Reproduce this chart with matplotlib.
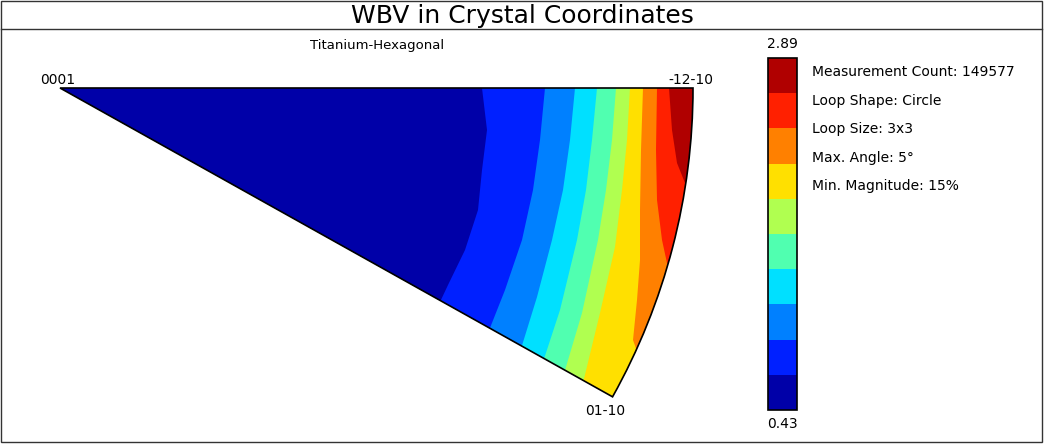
import numpy as np
import matplotlib.pyplot as plt
from matplotlib.patches import Polygon, Rectangle, Wedge

# band colours, low -> high (0.43 .. 2.89)
colors = ['#0000a8', '#0020ff', '#0080ff', '#00e0ff', '#50ffb0',
          '#b0ff50', '#ffe000', '#ff8000', '#ff2000', '#b00000']
vmin, vmax = 0.43, 2.89

# contour boundaries between successive bands (pixel coords of the sector)
bounds = [
    [(482, 88), (487, 130), (482, 170), (478, 210), (465, 250), (448, 285), (440, 302)],
    [(545, 88), (540, 140), (533, 190), (522, 240), (505, 290), (488, 333)],
    [(575, 88), (570, 140), (563, 190), (552, 240), (537, 297), (520, 352)],
    [(597, 88), (592, 140), (586, 190), (577, 240), (560, 310), (542, 365)],
    [(616, 88), (612, 140), (606, 190), (598, 240), (582, 313), (563, 377)],
    [(630, 88), (627, 140), (622, 190), (615, 247), (600, 313), (582, 387)],
    [(643, 88), (641, 150), (640, 210), (640, 260), (637, 300), (633, 340), (640, 360)],
    [(657, 88), (656, 150), (657, 200), (662, 240), (667, 263), (680, 275)],
    [(669, 88), (672, 130), (677, 163), (685, 183), (700, 190)],
]
info = ['Measurement Count: 149577', 'Loop Shape: Circle', 'Loop Size: 3x3',
        'Max. Angle: 5°', 'Min. Magnitude: 15%']

fig = plt.figure(figsize=(10.44, 4.44), dpi=100)
ax = fig.add_axes([0, 0, 1, 1])
ax.set_xlim(0, 1044)
ax.set_ylim(444, 0)
ax.axis('off')

# frame + title bar
ax.add_patch(Rectangle((1, 1), 1041, 441, fill=False, ec='#333333', lw=1))
ax.plot([1, 1042], [29, 29], c='#333333', lw=1)
ax.text(522, 16, 'WBV in Crystal Coordinates', ha='center', va='center', fontsize=18)
ax.text(377, 45, 'Titanium-Hexagonal', ha='center', va='center', fontsize=9.5)

# sector: centre 0001, radius to -12-10, y axis inverted so it opens downwards
cx, cy, R = 60, 88, 633
clip = Wedge((cx, cy), R, 0, 29.2, fc='none', ec='none')
ax.add_patch(clip)

base = Polygon([(cx, cy), (800, 88), (800, 450), (cx, cy)], closed=True,
               fc=colors[-1], ec='none')
ax.add_patch(base)
base.set_clip_path(clip)
for k in range(len(bounds) - 1, -1, -1):
    pts = list(bounds[k]) + [(620, 430), (cx, cy)]
    p = Polygon(pts, closed=True, fc=colors[k], ec='none')
    ax.add_patch(p)
    p.set_clip_path(clip)

outline = Wedge((cx, cy), R, 0, 29.2, fc='none', ec='black', lw=1.2)
ax.add_patch(outline)

ax.text(40, 80, '0001', fontsize=10, va='center')
ax.text(668, 80, '-12-10', fontsize=10, va='center')
ax.text(585, 411, '01-10', fontsize=10, va='center')

# colour bar
levels = np.linspace(vmin, vmax, len(colors) + 1)
y0, y1 = 410, 58
h = (y0 - y1) / len(colors)
for i, c in enumerate(colors):
    ax.add_patch(Rectangle((768, y0 - (i + 1) * h), 29, h, fc=c, ec='none'))
ax.add_patch(Rectangle((768, y1), 29, y0 - y1, fill=False, ec='black', lw=1.2))
ax.text(782, 44, f'{levels[-1]:.2f}', ha='center', va='center', fontsize=10)
ax.text(782, 424, f'{levels[0]:.2f}', ha='center', va='center', fontsize=10)

for i, t in enumerate(info):
    ax.text(812, 72 + i * 28.5, t, va='center', fontsize=10)

fig.savefig('out.png', dpi=100)
